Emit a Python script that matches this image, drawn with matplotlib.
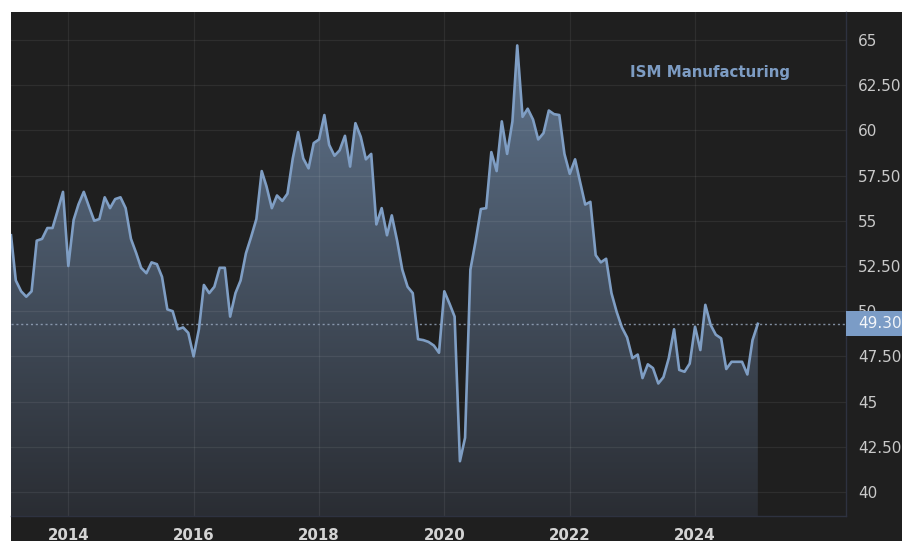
import numpy as np
import pandas as pd
import matplotlib as mplt
mplt.use("Agg")
import matplotlib.pyplot as plt
import matplotlib.dates as mdates
from matplotlib.colors import LinearSegmentedColormap
from matplotlib.patches import Rectangle
from matplotlib.transforms import blended_transform_factory

# ISM Manufacturing PMI, monthly from Feb 2013
pmi = [
    54.2, 51.7, 51.1, 50.8, 51.1, 53.9, 54.0, 54.6, 54.6, 55.6, 56.6,            # 2013
    52.5, 55.05, 55.9, 56.6, 55.8, 55.0, 55.1, 56.3, 55.7, 56.2, 56.3, 55.7,      # 2014
    54.0, 53.2, 52.4, 52.1, 52.7, 52.6, 51.9, 50.1, 50.0, 49.0, 49.1, 48.8,       # 2015
    47.5, 49.0, 51.45, 51.0, 51.35, 52.4, 52.4, 49.7, 51.0, 51.7, 53.2, 54.1,     # 2016
    55.1, 57.75, 56.9, 55.7, 56.4, 56.1, 56.5, 58.45, 59.9, 58.45, 57.9, 59.3,    # 2017
    59.5, 60.85, 59.2, 58.6, 58.9, 59.7, 58.0, 60.4, 59.65, 58.4, 58.7, 54.8,     # 2018
    55.7, 54.2, 55.3, 53.9, 52.3, 51.35, 51.0, 48.45, 48.4, 48.3, 48.1, 47.7,     # 2019
    51.1, 50.4, 49.7, 41.7, 43.0, 52.3, 53.85, 55.65, 55.7, 58.8, 57.75, 60.5,    # 2020
    58.7, 60.5, 64.7, 60.75, 61.2, 60.6, 59.5, 59.85, 61.1, 60.9, 60.85, 58.7,    # 2021
    57.6, 58.4, 57.2, 55.9, 56.05, 53.1, 52.7, 52.9, 51.0, 49.97, 49.1, 48.55,    # 2022
    47.4, 47.6, 46.3, 47.06, 46.85, 46.0, 46.35, 47.4, 49.0, 46.75, 46.65, 47.1,  # 2023
    49.14, 47.85, 50.35, 49.24, 48.7, 48.5, 46.8, 47.2, 47.2, 47.2, 46.5, 48.4,   # 2024
    49.3,                                                                          # 2025
]
dates = pd.date_range('2013-02-01', periods=len(pmi), freq='MS')
last_value = pmi[-1]

year_ticks = [2014, 2016, 2018, 2020, 2022, 2024]
y_ticks = [40, 42.5, 45, 47.5, 50, 52.5, 55, 57.5, 60, 62.5, 65]
y_tick_labels = ['40', '42.50', '45', '47.50', '50', '52.50', '55', '57.50', '60', '62.50', '65']
title = 'ISM Manufacturing'

bg = '#1f1f1f'
line_col = '#7f9ec4'

fig = plt.figure(figsize=(9.03, 5.41), dpi=100)
fig.patch.set_facecolor('white')
fig.patches.append(Rectangle((11/903, 0), 1, 1 - 12/541, transform=fig.transFigure,
                             facecolor=bg, edgecolor='none', zorder=-10))

ax = fig.add_axes([11/903, 25/541, (845.7 - 11)/903, 504/541])
ax.set_facecolor(bg)

x = mdates.date2num(dates)
ymin, ymax = 38.67, 66.55
xmin = mdates.date2num(pd.Timestamp('2013-02-01'))
xmax = mdates.date2num(pd.Timestamp('2026-05-28'))

# gradient fill under the line
poly = ax.fill_between(x, pmi, ymin, facecolor='none', edgecolor='none')
cmap = LinearSegmentedColormap.from_list('g', ['#2a2d33', '#61768f'])
grad = np.linspace(0, 1, 256).reshape(-1, 1)
im = ax.imshow(grad, cmap=cmap, aspect='auto', origin='lower',
               extent=[x[0], x[-1], ymin, 65.5], zorder=1)
im.set_clip_path(poly.get_paths()[0], transform=ax.transData)
ax.set_xlim(xmin, xmax)
ax.set_ylim(ymin, ymax)

ax.plot(x, pmi, color=line_col, lw=1.9, zorder=3, solid_joinstyle='round')

# grid
for v in y_ticks:
    ax.axhline(v, color='white', alpha=0.07, lw=0.9, zorder=2)
for yr in year_ticks:
    ax.axvline(mdates.date2num(pd.Timestamp(f'{yr}-01-01')), color='white', alpha=0.07, lw=0.9, zorder=2)

# current value line
ax.axhline(last_value, color='#9aaac0', lw=1.0, ls=(0, (1.5, 2)), alpha=0.8, zorder=4)

# axes
for s in ['top', 'left']:
    ax.spines[s].set_visible(False)
for s in ['right', 'bottom']:
    ax.spines[s].set_color('#2e3240')
    ax.spines[s].set_linewidth(1)

ax.yaxis.tick_right()
ax.set_yticks(y_ticks)
ax.set_yticklabels(y_tick_labels)
ax.tick_params(axis='y', length=0, pad=9, labelsize=11, labelcolor='#c9c9c9')
ax.set_xticks([mdates.date2num(pd.Timestamp(f'{yr}-01-01')) for yr in year_ticks])
ax.set_xticklabels([str(yr) for yr in year_ticks])
ax.tick_params(axis='x', length=0, pad=9, labelsize=10.8, labelcolor='#d4d4d4')
for t in ax.get_xticklabels():
    t.set_fontweight('bold')

# last value box on the right axis
tr = blended_transform_factory(ax.transAxes, ax.transData)
box_w = (903 - 845.7) / 834.7 + 0.01
ax.add_patch(Rectangle((1.0, last_value - 0.69), box_w, 1.38, transform=tr,
                       facecolor='#7b9cc6', edgecolor='none', clip_on=False, zorder=10))
ax.text(1.0 + 13/834.7, last_value, f'{last_value:.2f}', transform=tr, ha='left', va='center',
        fontsize=11, color='#f2f5f9', clip_on=False, zorder=11)

ax.text(0.7416, 0.879, title, transform=ax.transAxes, ha='left', va='center',
        fontsize=10.8, fontweight='bold', color='#7d9cc3', zorder=5)

fig.savefig('out.png', dpi=100)
